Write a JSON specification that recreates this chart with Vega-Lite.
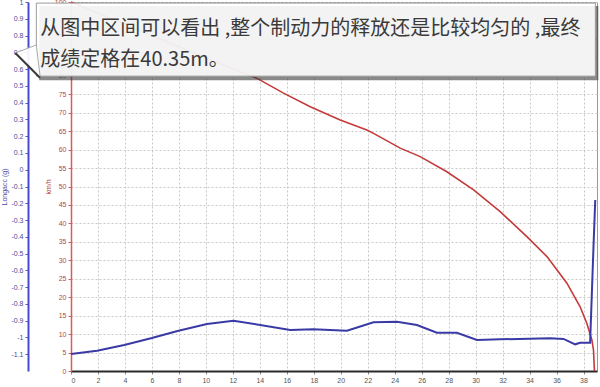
{
  "$schema": "https://vega.github.io/schema/vega-lite/v6.json",
  "width": 526,
  "height": 369,
  "autosize": {"type": "none"},
  "padding": {"left": 71, "top": 2, "right": 3, "bottom": 16},
  "background": "white",
  "config": {
    "view": {"stroke": "#9a9a9a", "strokeWidth": 1},
    "font": "Liberation Sans",
    "axis": {"labelOverlap": false},
    "axisX": {
      "labelOverlap": false, "title": null, "zindex": 0,
      "values": [0, 2, 4, 6, 8, 10, 12, 14, 16, 18, 20, 22, 24, 26, 28, 30, 32, 34, 36, 38],
      "labelFontSize": 7, "labelColor": "#555", "labelPadding": 2,
      "tickSize": 3, "tickColor": "#888",
      "domainColor": "#2a2a2a", "domainWidth": 2,
      "grid": true, "gridColor": "#c9c9c4", "gridDash": [2, 2], "gridWidth": 1
    }
  },
  "datasets": {
    "speed": [
      {"dist": 0, "kmh": 100},
      {"dist": 2, "kmh": 97},
      {"dist": 4, "kmh": 94},
      {"dist": 6, "kmh": 90.9},
      {"dist": 8, "kmh": 87.9},
      {"dist": 10, "kmh": 84.9},
      {"dist": 12, "kmh": 81.9},
      {"dist": 13.8, "kmh": 79.3},
      {"dist": 15.76, "kmh": 75.3},
      {"dist": 17.74, "kmh": 71.6},
      {"dist": 19.96, "kmh": 68.0},
      {"dist": 21.94, "kmh": 65.3},
      {"dist": 22.43, "kmh": 64.4},
      {"dist": 24.41, "kmh": 60.4},
      {"dist": 25.89, "kmh": 58.1},
      {"dist": 27.87, "kmh": 54.0},
      {"dist": 29.85, "kmh": 49.1},
      {"dist": 31.82, "kmh": 43.2},
      {"dist": 33.8, "kmh": 36.4},
      {"dist": 35.29, "kmh": 31.0},
      {"dist": 36.77, "kmh": 23.8},
      {"dist": 37.75, "kmh": 17.4},
      {"dist": 38.25, "kmh": 12.9},
      {"dist": 38.62, "kmh": 8.4},
      {"dist": 38.74, "kmh": 5.7},
      {"dist": 38.81, "kmh": 0}
    ],
    "acc": [
      {"dist": 0, "g": -1.099},
      {"dist": 1.93, "g": -1.079},
      {"dist": 3.95, "g": -1.045},
      {"dist": 5.93, "g": -1.005},
      {"dist": 7.9, "g": -0.961},
      {"dist": 10.08, "g": -0.92},
      {"dist": 12.05, "g": -0.9},
      {"dist": 16.26, "g": -0.955},
      {"dist": 17.96, "g": -0.951},
      {"dist": 20.46, "g": -0.96},
      {"dist": 22.43, "g": -0.91},
      {"dist": 24.17, "g": -0.906},
      {"dist": 25.65, "g": -0.926},
      {"dist": 27.13, "g": -0.972},
      {"dist": 28.61, "g": -0.972},
      {"dist": 30.1, "g": -1.015},
      {"dist": 31.82, "g": -1.011},
      {"dist": 35.53, "g": -1.005},
      {"dist": 36.52, "g": -1.009},
      {"dist": 37.38, "g": -1.041},
      {"dist": 37.75, "g": -1.032},
      {"dist": 38.49, "g": -1.032},
      {"dist": 38.74, "g": -0.459},
      {"dist": 38.87, "g": -0.181}
    ]
  },
  "layer": [
    {
      "data": {"name": "speed"},
      "mark": {"type": "line", "color": "#c43a3a", "strokeWidth": 1.6},
      "encoding": {
        "x": {
          "field": "dist", "type": "quantitative", "title": null,
          "scale": {"domain": [0, 39], "nice": false, "zero": false}
        },
        "y": {
          "field": "kmh", "type": "quantitative",
          "scale": {"domain": [0, 100], "nice": false},
          "axis": {
            "orient": "left", "zindex": 0,
            "title": "km/h", "titleColor": "#b04040", "titleFontSize": 7, "titleFontWeight": "normal", "titlePadding": 3,
            "values": [0, 5, 10, 15, 20, 25, 30, 35, 40, 45, 50, 55, 60, 65, 70, 75, 80, 85, 90, 95, 100],
            "labelExpr": "datum.value >= 85 && datum.value <= 95 ? '' : datum.label",
            "labelOverlap": false,
            "labelFontSize": 7, "labelColor": "#b04848", "labelPadding": 2,
            "tickSize": 3, "tickColor": "#d06060",
            "domainColor": "#e05858", "domainWidth": 1.5,
            "grid": true, "gridColor": "#c9c9c4", "gridDash": [2, 2], "gridWidth": 1
          }
        }
      }
    },
    {
      "data": {"name": "acc"},
      "mark": {"type": "line", "color": "#3a3aa6", "strokeWidth": 2},
      "encoding": {
        "x": {
          "field": "dist", "type": "quantitative", "title": null,
          "scale": {"domain": [0, 39], "nice": false, "zero": false}
        },
        "y": {
          "field": "g", "type": "quantitative",
          "scale": {"domain": [-1.2, 1.0], "nice": false, "zero": false},
          "axis": {
            "orient": "left", "offset": 43, "zindex": 0,
            "title": "Longacc (g)", "titleColor": "#4848a8", "titleFontSize": 7, "titleFontWeight": "normal", "titlePadding": 3,
            "values": [-1.1, -1, -0.9, -0.8, -0.7, -0.6, -0.5, -0.4, -0.3, -0.2, -0.1, 0, 0.1, 0.2, 0.3, 0.4, 0.5, 0.6, 0.7, 0.8, 0.9, 1],
            "labelExpr": "'' + datum.value",
            "labelOverlap": false,
            "labelFontSize": 7, "labelColor": "#4a4a9a", "labelPadding": 2,
            "tickSize": 3, "tickColor": "#5a5ac0",
            "domainColor": "#4a4ad0", "domainWidth": 2,
            "grid": false
          }
        }
      }
    },
    {
      "data": {"values": [{}]},
      "layer": [
        {
          "mark": {"type": "rect", "color": "#3a3a3a", "opacity": 0.6},
          "encoding": {
            "x": {"datum": -2.35, "type": "quantitative", "title": null, "scale": {"domain": [0, 39], "nice": false, "zero": false}},
            "x2": {"datum": 39.1},
            "y": {"datum": 98.9, "type": "quantitative", "scale": {"domain": [0, 100], "nice": false}, "axis": null},
            "y2": {"datum": 78.8}
          }
        },
        {
          "mark": {"type": "rect", "fill": "white", "fillOpacity": 0.9, "stroke": "#9a9a9a", "strokeWidth": 1},
          "encoding": {
            "x": {"datum": -2.57, "type": "quantitative", "title": null, "scale": {"domain": [0, 39], "nice": false, "zero": false}},
            "x2": {"datum": 38.88},
            "y": {"datum": 99.7, "type": "quantitative", "scale": {"domain": [0, 100], "nice": false}, "axis": null},
            "y2": {"datum": 79.9}
          }
        },
        {
          "mark": {"type": "point", "shape": "M0.32,-0.66L-0.52,-0.34L0.48,0.66Z", "size": 2500, "filled": true, "fill": "white", "fillOpacity": 0.92, "stroke": "#aaaaaa", "strokeWidth": 1},
          "encoding": {
            "x": {"datum": -3.165, "type": "quantitative", "title": null, "scale": {"domain": [0, 39], "nice": false, "zero": false}},
            "y": {"datum": 83.88, "type": "quantitative", "scale": {"domain": [0, 100], "nice": false}, "axis": null}
          }
        },
        {
          "mark": {"type": "rule", "color": "#3a3a3a", "strokeWidth": 2},
          "encoding": {
            "x": {"datum": -4.13, "type": "quantitative", "title": null, "scale": {"domain": [0, 39], "nice": false, "zero": false}},
            "x2": {"datum": -2.28},
            "y": {"datum": 86.2, "type": "quantitative", "scale": {"domain": [0, 100], "nice": false}, "axis": null},
            "y2": {"datum": 79.4}
          }
        },
        {
          "mark": {
            "type": "text",
            "text": ["从图中区间可以看出 ,整个制动力的释放还是比较均匀的 ,最终", "成绩定格在40.35m。"],
            "font": "Noto Sans CJK SC", "fontSize": 20, "lineHeight": 31,
            "align": "left", "baseline": "alphabetic", "color": "#3a3a3a"
          },
          "encoding": {
            "x": {"datum": -2.276, "type": "quantitative", "title": null, "scale": {"domain": [0, 39], "nice": false, "zero": false}},
            "y": {"datum": 91.06, "type": "quantitative", "scale": {"domain": [0, 100], "nice": false}, "axis": null}
          }
        }
      ]
    }
  ],
  "resolve": {"scale": {"y": "independent"}}
}
